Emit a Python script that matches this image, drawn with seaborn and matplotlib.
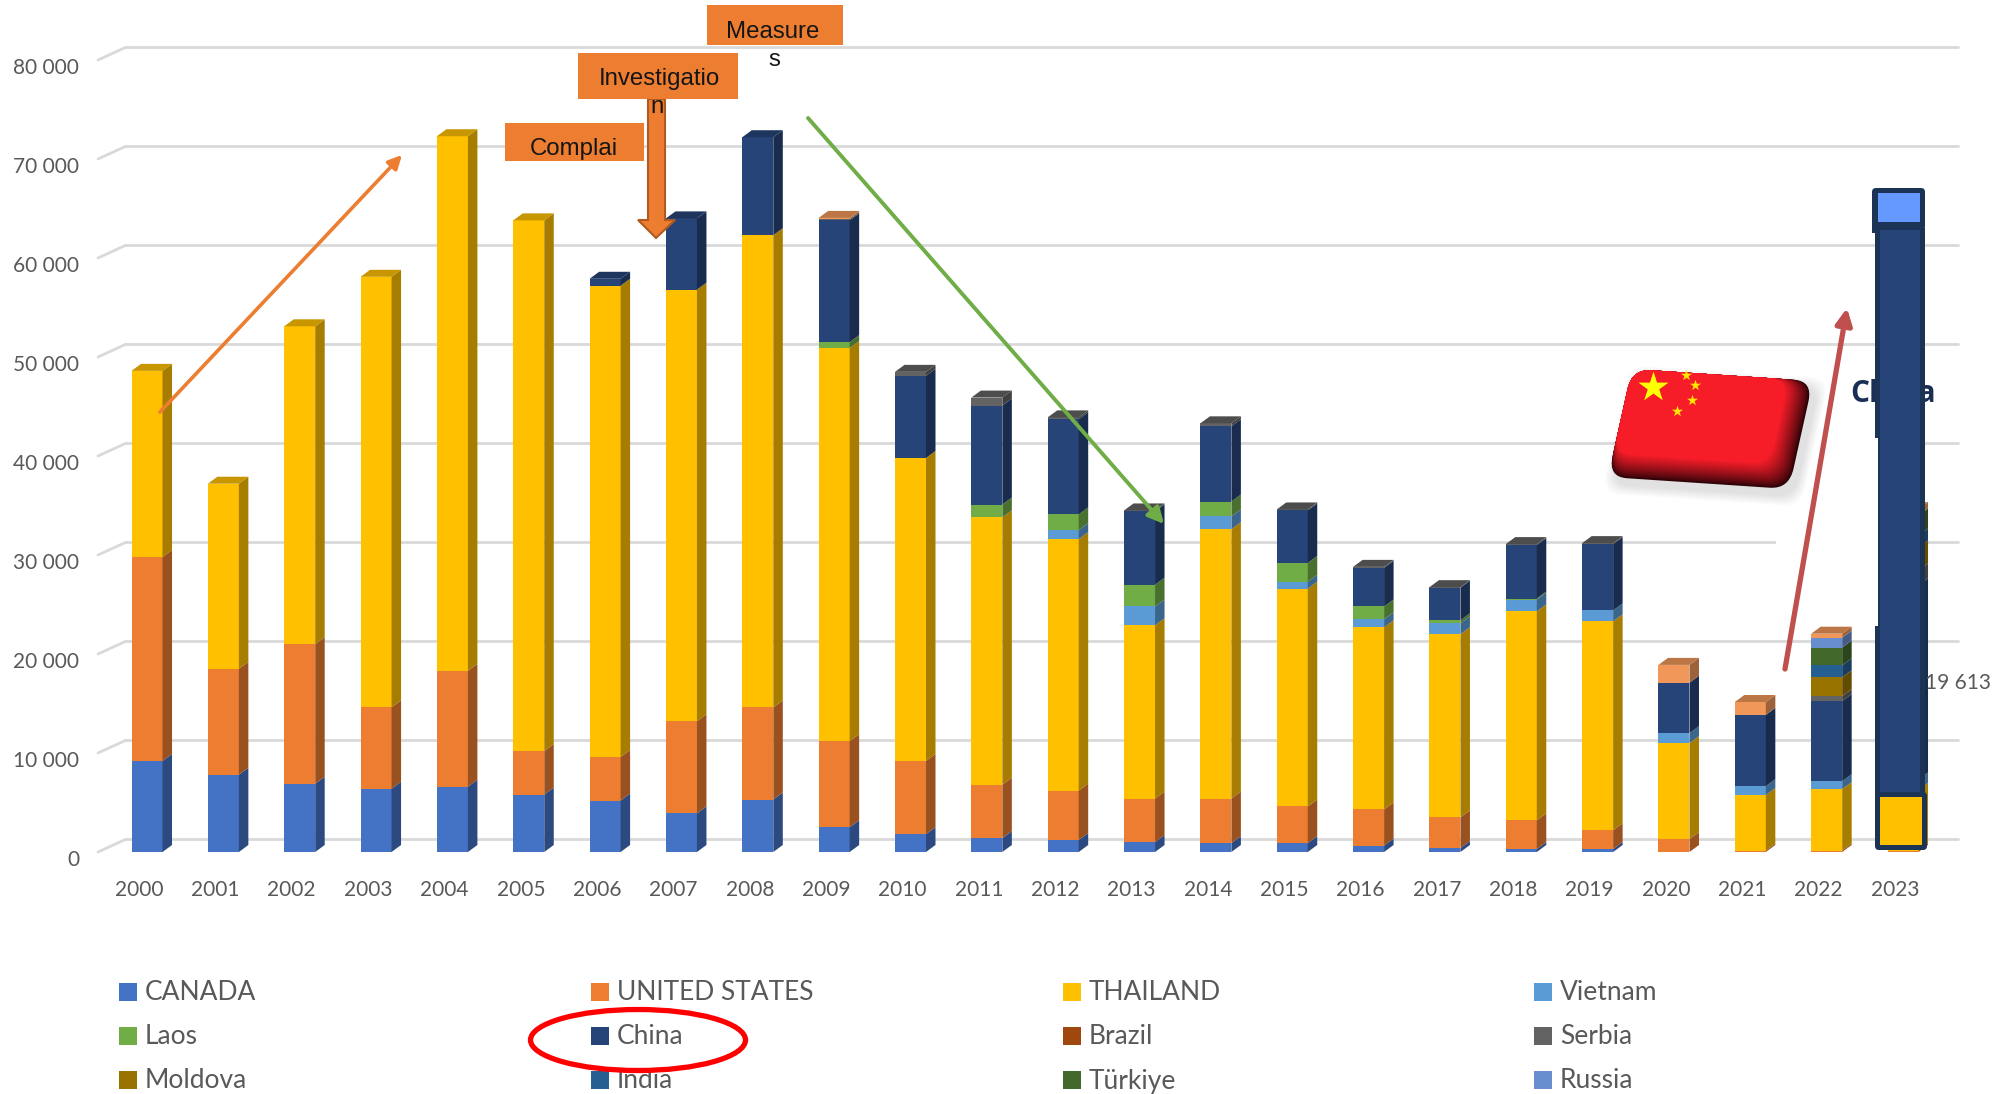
import numpy as np
import matplotlib
matplotlib.use('Agg')
import matplotlib.pyplot as plt
import matplotlib.patches as mpatches
from matplotlib.path import Path
from matplotlib.transforms import Affine2D, ScaledTranslation
import seaborn as sns

years = [str(y) for y in range(2000, 2024)]

canada = [9200, 7800, 6900, 6400, 6600, 5800, 5200, 3900, 5300, 2500, 1800, 1400,
          1200, 1000, 900, 900, 650, 400, 300, 300, 0, 0, 0, 0]
usa = [20600, 10700, 14100, 8200, 11700, 4400, 4400, 9300, 9300, 8700, 7400, 5400,
       5000, 4400, 4500, 3700, 3650, 3100, 2900, 1900, 1300, 150, 150, 150]
thailand = [18800, 18700, 32100, 43500, 54000, 53600, 47600, 43600, 47700, 39700, 30600, 27000,
            25400, 17500, 27200, 22000, 18400, 18500, 21100, 21100, 9700, 5600, 6200, 6110]
vietnam = [0, 0, 0, 0, 0, 0, 0, 0, 0, 0, 0, 0,
           900, 1900, 1300, 700, 800, 1100, 1200, 1100, 1000, 900, 800, 1060]
laos = [0, 0, 0, 0, 0, 0, 0, 0, 0, 600, 0, 1300,
        1600, 2200, 1500, 1900, 1300, 300, 100, 0, 0, 0, 0, 0]
china = [0, 0, 0, 0, 0, 0, 700, 7200, 9900, 12300, 8300, 10000,
         9600, 7400, 7600, 5300, 3900, 3300, 5400, 6700, 5100, 7200, 8100, 19613]
brazil = [0] * 24
serbia = [0, 0, 0, 0, 0, 0, 0, 0, 0, 100, 400, 800,
          200, 100, 300, 100, 100, 50, 100, 100, 0, 0, 500, 1500]
moldova = [0] * 22 + [1900, 2330]
india = [0] * 22 + [1200, 1210]
turkiye = [0] * 22 + [1800, 2020]
russia = [0] * 22 + [1000, 0]
other = [0] * 9 + [150] + [0] * 10 + [1800, 1300, 400, 650]

series = [('CANADA', canada, '#4472C4'), ('UNITED STATES', usa, '#ED7D31'),
          ('THAILAND', thailand, '#FFC000'), ('Vietnam', vietnam, '#5B9BD5'),
          ('Laos', laos, '#70AD47'), ('China', china, '#264478'),
          ('Brazil', brazil, '#9E480E'), ('Serbia', serbia, '#636363'),
          ('Moldova', moldova, '#997300'), ('India', india, '#255E91'),
          ('Türkiye', turkiye, '#43682B'), ('Russia', russia, '#698ED0'),
          ('', other, '#F1975A')]

yticks = [0, 10000, 20000, 30000, 40000, 50000, 60000, 70000, 80000]
ytick_labels = ['0', '10 000', '20 000', '30 000', '40 000', '50 000', '60 000', '70 000', '80 000']

W, H = 2006, 1094
sns.set_theme(style='white')
plt.rcParams['font.family'] = ['Lato', 'DejaVu Sans']

fig = plt.figure(figsize=(W / 100, H / 100), dpi=100, facecolor='white')
ax = fig.add_axes([98 / W, 1 - 852 / H, (1958 - 98) / W, (852 - 60) / H])
x_right = 23.72


def darker(c, f):
    return tuple(np.array(matplotlib.colors.to_rgb(c)) * f)


# stacked bars
bottom = np.zeros(24)
for name, vals, col in series:
    sns.barplot(x=years, y=vals, bottom=bottom, color=col, saturation=1, width=0.406,
                errorbar=None, ax=ax, zorder=2, linewidth=0)
    bottom = bottom + np.array(vals)

ax.set_xlim(-0.642, x_right)
ax.set_ylim(0, 80000)

# fake 3d faces
dx = 9.5 / 76.35
dy = 7 / 99 * 10000
for bar in ax.patches:
    h = bar.get_height()
    if h <= 0:
        continue
    x1 = bar.get_x() + bar.get_width()
    x0 = bar.get_x()
    y0 = bar.get_y()
    y1 = y0 + h
    c = bar.get_facecolor()
    ax.add_patch(plt.Polygon([(x1, y0), (x1 + dx, y0 + dy), (x1 + dx, y1 + dy), (x1, y1)],
                             fc=darker(c[:3], 0.65), lw=0, zorder=2, clip_on=False))
    i = int(round(x0 + bar.get_width() / 2))
    if abs(y1 - bottom[i]) < 1:
        ax.add_patch(plt.Polygon([(x0, y1), (x0 + dx, y1 + dy), (x1 + dx, y1 + dy), (x1, y1)],
                                 fc=darker(c[:3], 0.78), lw=0, zorder=2, clip_on=False))

# back wall grid
back = 12.8 / 99 * 10000
x_wall = (126 - 98) / 76.35 - 0.642
for v in yticks:
    ax.plot([x_wall, x_right], [v + back, v + back], color='#D9D9D9', lw=2, zorder=0, clip_on=False)
    ax.plot([-0.642, x_wall], [v, v + back], color='#D9D9D9', lw=2, zorder=0, clip_on=False)

sns.despine(ax=ax, left=True, bottom=True)
ax.set_yticks(yticks)
ax.set_yticklabels(ytick_labels)
ax.set_xlabel('')
ax.tick_params(axis='y', length=0, pad=13.5, labelsize=15, labelcolor='#595959')
ax.tick_params(axis='x', length=0, pad=20, labelsize=15, labelcolor='#595959')
for lab in ax.get_yticklabels():
    lab.set_transform(lab.get_transform() + ScaledTranslation(0, -0.062, fig.dpi_scale_trans))
for lab in ax.get_xticklabels():
    lab.set_transform(lab.get_transform() + ScaledTranslation(-0.08, 0, fig.dpi_scale_trans))
ax.patch.set_alpha(0)

# China 2023 data label, mostly behind the highlight
seg_mid = sum(v[23] for v in [canada, usa, thailand, vietnam, laos]) + china[23] / 2
ax.annotate('19 613', (23, seg_mid), xytext=(88, -1), textcoords='offset pixels', ha='right',
            va='center', fontsize=15, color='#595959', zorder=3)

# overlay in picture pixels for the pasted shapes
ov = fig.add_axes([0, 0, 1, 1])
ov.set_xlim(0, W)
ov.set_ylim(H, 0)
ov.axis('off')
ov.patch.set_alpha(0)


def rect(x0, y0, x1, y1, col, z=3, rounded=False, **kw):
    if rounded:
        p = mpatches.FancyBboxPatch((x0, y0), x1 - x0, y1 - y0, boxstyle='round,pad=0,rounding_size=4',
                                    fc=col, lw=0, zorder=z, **kw)
    else:
        p = mpatches.Rectangle((x0, y0), x1 - x0, y1 - y0, fc=col, lw=0, zorder=z, **kw)
    ov.add_patch(p)


# callout boxes
sans = ['Liberation Sans', 'DejaVu Sans']
ov.add_patch(plt.Polygon([(648, 99), (665, 99), (665, 220), (675, 220), (656, 238), (638, 220), (648, 220)],
                         fc='#ED7D31', ec='#AE5A21', lw=1.5, zorder=3))
for x0, y0, x1, y1 in [(505, 123, 644, 161), (578, 53, 738, 99), (707, 5, 843, 45)]:
    rect(x0, y0, x1, y1, '#ED7D31', z=4)
callouts = [('Complai', 574, 149.5), ('Investigatio', 659, 79.5), ('n', 657, 107), ('Measure', 773, 31.5), ('s', 774, 60)]
for t, x, y in callouts:
    ov.text(x, y, t, ha='center', va='center', fontsize=17.3, color='#151515', family=sans, zorder=5)

# trend arrows
for p0, p1, col, lw, ms in [((160, 412), (402, 155), '#ED7D31', 2.6, 20),
                            ((808, 118), (1164, 524), '#70AD47', 2.8, 24)]:
    ov.annotate('', xy=p1, xytext=p0, zorder=4,
                arrowprops=dict(arrowstyle='-|>', color=col, lw=lw, mutation_scale=ms, shrinkA=0, shrinkB=0))

# china label + highlight column
ov.text(1893, 394, 'China', ha='center', va='center', fontsize=21.5, fontweight='bold',
        color='#1B2F55', family=['Open Sans', 'DejaVu Sans'], zorder=3)
navy_dark = '#1B3354'
rect(1875, 228, 1925, 795, navy_dark, z=4)
rect(1776, 438, 1878, 626, 'white', z=4.5)
rect(1880, 222, 1920, 797, '#264478', z=5)
rect(1872, 188, 1925, 230, navy_dark, z=5, rounded=True)
rect(1872, 225, 1880, 233, navy_dark, z=5)
rect(1878, 193, 1920, 222, '#6699FF', z=6)
rect(1875, 792, 1927, 850, navy_dark, z=5, rounded=True)
rect(1880, 797, 1922, 845, '#FFC000', z=6)

# flag
tl, tr, bl = np.array([1632, 369]), np.array([1813, 381]), np.array([1608, 477])
flag_w, flag_h = 190, 105
flag_mat = np.eye(3)
flag_mat[:2, 0] = (tr - tl) / flag_w
flag_mat[:2, 1] = (bl - tl) / flag_h
flag_mat[:2, 2] = tl
flag_tr = Affine2D(flag_mat)


def flag_piece(r, b, col, z, offs=(0, 0), alpha=1.0, grow=0):
    shape = mpatches.BoxStyle.Round(pad=0, rounding_size=20)(-grow, -grow, flag_w + 2 * grow - r, flag_h + 2 * grow - b, 1)
    verts = flag_tr.transform(shape.vertices) + np.array(offs)
    ov.add_patch(mpatches.PathPatch(Path(verts, shape.codes), fc=col, lw=0, zorder=z, alpha=alpha))


for k in range(10):
    flag_piece(0, 0, '#000000', 6, offs=(5, 7), alpha=0.012, grow=10 - k)
rim0, rim1 = np.array([0.18, 0.01, 0.03]), np.array([0.965, 0.115, 0.16])
steps = 16
for k in range(steps):
    t = k / (steps - 1)
    flag_piece(k * 1.7, k * 1.5, tuple(rim0 + (rim1 - rim0) * t ** 0.8), 6.1 + k * 0.01)
ov.scatter([1653], [387], marker='*', s=520, c='#FFFF00', lw=0, zorder=7)
ov.scatter([1686, 1695, 1692, 1677], [375, 385, 400, 411], marker='*', s=70, c='#FFE600', lw=0, zorder=7)

# red arrow to china column
ov.annotate('', xy=(1847, 308), xytext=(1785, 669), zorder=8,
            arrowprops=dict(arrowstyle='-|>', color='#C0504D', lw=3.8, mutation_scale=24, shrinkA=0, shrinkB=0))

# legend, laid out by hand on the original's four column grid
col_x = [119, 591, 1063, 1534]
row_y = [991.5, 1036, 1080]
k = 0
for row in row_y:
    for cx in col_x:
        name, vals, col = series[k]
        rect(cx, row - 9, cx + 18, row + 9, col, z=3)
        ov.text(cx + 26, row + 1, name, ha='left', va='center', fontsize=19, color='#595959', zorder=3)
        k += 1

ov.add_patch(mpatches.Ellipse((638, 1040), 215, 61, fc='none', ec='#FF0000', lw=3.8, zorder=4))

fig.savefig('out.png', dpi=100, facecolor='white')
